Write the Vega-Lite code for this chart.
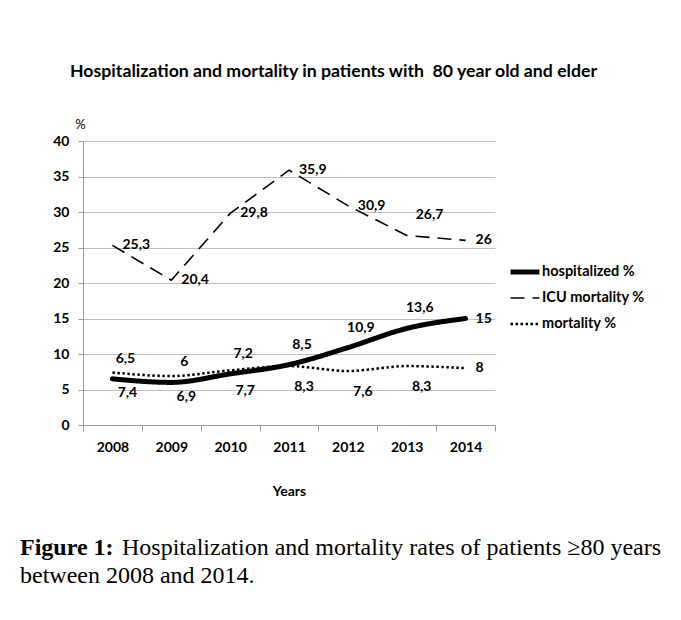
{
  "$schema": "https://vega.github.io/schema/vega-lite/v6.json",
  "autosize": {"type": "pad"},
  "padding": {"left": 20, "top": 63, "right": 5, "bottom": 5},
  "background": "white",
  "config": {
    "locale": {"number": {"decimal": ",", "thousands": ".", "grouping": [3], "currency": ["", " €"]}},
    "view": {"stroke": null},
    "font": "Lato"
  },
  "title": {
    "text": "Figure 1:",
    "subtitle": ["\u200b\u00a0\u00a0\u00a0\u00a0\u00a0\u00a0\u00a0\u00a0\u00a0\u00a0\u00a0\u00a0\u00a0\u00a0\u00a0\u00a0\u00a0Hospitalization and mortality rates of patients ≥80 years", "between 2008 and 2014."],
    "orient": "bottom",
    "anchor": "start",
    "frame": "group",
    "font": "Liberation Serif",
    "fontSize": 24,
    "fontWeight": "bold",
    "color": "black",
    "subtitleFont": "Liberation Serif",
    "subtitleFontSize": 24,
    "subtitleFontWeight": "normal",
    "subtitleColor": "black",
    "subtitleLineHeight": 28,
    "subtitlePadding": -24,
    "offset": 38,
    "dx": -63
  },
  "vconcat": [
    {
      "width": 412,
      "height": 284,
      "title": {
        "text": "Hospitalization and mortality in patients with\u00a0 80 year old and elder",
        "anchor": "start",
        "frame": "group",
        "dx": -13,
        "font": "Lato",
        "fontSize": 17.7,
        "fontWeight": "bold",
        "color": "black",
        "offset": 37
      },
      "data": {
        "values": [
          {"year": 2008, "series": "hospitalized %", "value": 6.5},
          {"year": 2009, "series": "hospitalized %", "value": 6},
          {"year": 2010, "series": "hospitalized %", "value": 7.2},
          {"year": 2011, "series": "hospitalized %", "value": 8.5},
          {"year": 2012, "series": "hospitalized %", "value": 10.9},
          {"year": 2013, "series": "hospitalized %", "value": 13.6},
          {"year": 2014, "series": "hospitalized %", "value": 15},
          {"year": 2008, "series": "ICU mortality %", "value": 25.3},
          {"year": 2009, "series": "ICU mortality %", "value": 20.4},
          {"year": 2010, "series": "ICU mortality %", "value": 29.8},
          {"year": 2011, "series": "ICU mortality %", "value": 35.9},
          {"year": 2012, "series": "ICU mortality %", "value": 30.9},
          {"year": 2013, "series": "ICU mortality %", "value": 26.7},
          {"year": 2014, "series": "ICU mortality %", "value": 26},
          {"year": 2008, "series": "mortality %", "value": 7.4},
          {"year": 2009, "series": "mortality %", "value": 6.9},
          {"year": 2010, "series": "mortality %", "value": 7.7},
          {"year": 2011, "series": "mortality %", "value": 8.3},
          {"year": 2012, "series": "mortality %", "value": 7.6},
          {"year": 2013, "series": "mortality %", "value": 8.3},
          {"year": 2014, "series": "mortality %", "value": 8}
        ]
      },
      "encoding": {
        "x": {
          "field": "year",
          "type": "quantitative",
          "scale": {"domain": [2007.5, 2014.5], "nice": false, "zero": false},
          "axis": {
            "values": [2007.5, 2008.5, 2009.5, 2010.5, 2011.5, 2012.5, 2013.5, 2014.5],
            "labelExpr": "datum.value < 2014 ? format(datum.value + 0.5, 'd') : ''",
            "labelOffset": 29.43,
            "labelFlush": false,
            "labelOverlap": false,
            "labelBound": false,
            "grid": false,
            "tickSize": 6,
            "tickColor": "#9a9a9a",
            "domainColor": "#9a9a9a",
            "labelPadding": 9,
            "labelFont": "Lato",
            "labelFontSize": 14,
            "labelFontWeight": "bold",
            "labelColor": "black",
            "title": "Years",
            "titleFont": "Lato",
            "titleFontSize": 14,
            "titleFontWeight": "bold",
            "titleColor": "black",
            "titlePadding": 30
          }
        },
        "y": {
          "field": "value",
          "type": "quantitative",
          "scale": {"domain": [0, 40], "nice": false},
          "axis": {
            "values": [0, 5, 10, 15, 20, 25, 30, 35, 40],
            "labelFlush": false,
            "title": "%",
            "titleAngle": 0,
            "titleX": -3,
            "titleY": -17,
            "titleAlign": "center",
            "titleBaseline": "middle",
            "titleFont": "Lato",
            "titleFontSize": 13,
            "titleFontWeight": "normal",
            "titleColor": "black",
            "labelFont": "Lato",
            "labelFontSize": 14,
            "labelFontWeight": "bold",
            "labelColor": "black",
            "labelPadding": 9,
            "tickSize": 5,
            "tickColor": "#9a9a9a",
            "domainColor": "#9a9a9a",
            "gridColor": "#bdbdbd"
          }
        }
      },
      "layer": [
        {
          "encoding": {
            "strokeDash": {"field": "series", "type": "nominal", "scale": {"domain": ["hospitalized %", "ICU mortality %", "mortality %"], "range": [[1, 0], [14, 8], [2.5, 2.5]]}, "legend": {"title": null, "orient": "none", "legendX": 425, "legendY": 121, "symbolType": "stroke", "symbolSize": 841, "symbolStrokeColor": "black", "labelFont": "Lato", "labelFontSize": 14.5, "labelFontWeight": "bold", "labelColor": "black", "clipHeight": 20, "rowPadding": 6, "labelOffset": 0}},
            "strokeWidth": {"field": "series", "type": "nominal", "scale": {"type": "ordinal", "domain": ["hospitalized %", "ICU mortality %", "mortality %"], "range": [5, 1.6, 2.5]}, "legend": {"title": null, "orient": "none", "legendX": 425, "legendY": 121, "symbolType": "stroke", "symbolSize": 841, "symbolStrokeColor": "black", "labelFont": "Lato", "labelFontSize": 14.5, "labelFontWeight": "bold", "labelColor": "black", "clipHeight": 20, "rowPadding": 6, "labelOffset": 0}}
          },
          "layer": [
            {
              "transform": [{"filter": "datum.series === 'hospitalized %'"}],
              "mark": {"type": "line", "interpolate": "monotone", "color": "black", "strokeCap": "round"}
            },
            {
              "transform": [{"filter": "datum.series === 'mortality %'"}],
              "mark": {"type": "line", "interpolate": "monotone", "color": "black"}
            },
            {
              "transform": [{"filter": "datum.series === 'ICU mortality %'"}],
              "mark": {"type": "line", "color": "black"}
            }
          ]
        },
        {
          "transform": [{"filter": "datum.series === 'hospitalized %' && datum.year < 2014"}],
          "mark": {"type": "text", "font": "Lato", "fontSize": 14, "fontWeight": "bold", "color": "black", "align": "center", "baseline": "middle", "dx": 13, "dy": -20},
          "encoding": {"text": {"field": "value", "type": "quantitative", "format": "~g"}}
        },
        {
          "transform": [{"filter": "datum.series === 'mortality %' && datum.year < 2014"}],
          "mark": {"type": "text", "font": "Lato", "fontSize": 14, "fontWeight": "bold", "color": "black", "align": "center", "baseline": "middle", "dx": 15, "dy": 21},
          "encoding": {"text": {"field": "value", "type": "quantitative", "format": "~g"}}
        },
        {
          "transform": [{"filter": "(datum.series === 'ICU mortality %' && datum.year !== 2013) || (datum.series !== 'ICU mortality %' && datum.year === 2014)"}],
          "mark": {"type": "text", "font": "Lato", "fontSize": 14, "fontWeight": "bold", "color": "black", "align": "left", "baseline": "middle", "dx": 10},
          "encoding": {"text": {"field": "value", "type": "quantitative", "format": "~g"}}
        },
        {
          "transform": [{"filter": "datum.series === 'ICU mortality %' && datum.year === 2013"}],
          "mark": {"type": "text", "font": "Lato", "fontSize": 14, "fontWeight": "bold", "color": "black", "align": "left", "baseline": "middle", "dx": 9, "dy": -20},
          "encoding": {"text": {"field": "value", "type": "quantitative", "format": "~g"}}
        }
      ]
    }
  ]
}
